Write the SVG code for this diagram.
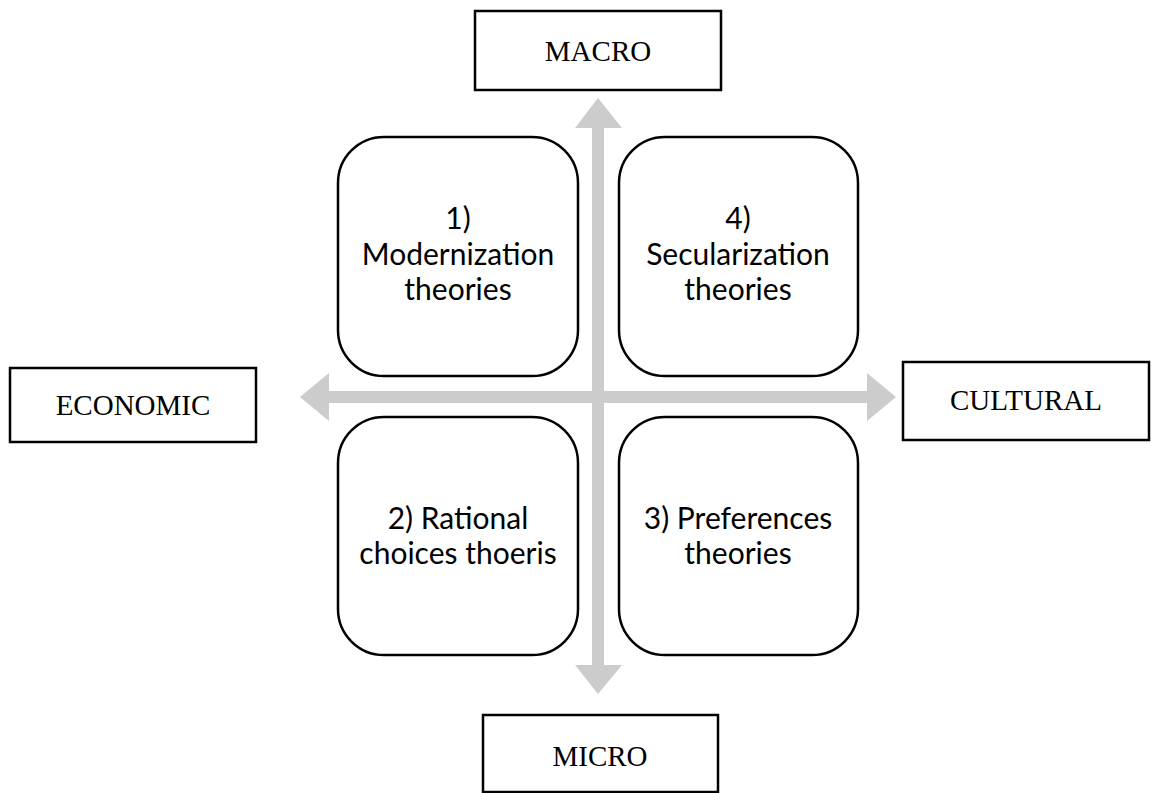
<svg xmlns="http://www.w3.org/2000/svg" width="1155" height="793" viewBox="0 0 1155 793">
<style>
.lbl{fill:#fff;stroke:#000;stroke-width:2.5}
.q{fill:#fff;stroke:#000;stroke-width:2.5}
.serif{font-family:"Liberation Serif","Times New Roman",serif;font-size:29px;fill:#000;text-anchor:middle}
.sans{font-family:Lato,"Liberation Sans",sans-serif;font-size:30px;fill:#000;text-anchor:middle}
.arr{fill:#cccccc}
</style>
<rect width="1155" height="793" fill="#fff"/>
<g id="connectors">
<polygon class="arr" points="592,128 575,128 598,98 622,128 604,128 604,391 867,391 867,373 896,397 867,421 867,403 604,403 604,665 622,665 598,694 575,665 592,665 592,403 329,403 329,421 300,397 329,373 329,391 592,391"/>
</g>
<g id="macro"><rect class="lbl" x="475" y="11" width="246" height="79"/><text class="serif" x="598" y="61">MACRO</text></g>
<g id="micro"><rect class="lbl" x="483" y="715" width="235" height="77"/><text class="serif" x="600" y="766">MICRO</text></g>
<g id="economic"><rect class="lbl" x="10" y="368" width="246" height="74"/><text class="serif" x="133" y="415">ECONOMIC</text></g>
<g id="cultural"><rect class="lbl" x="903" y="362" width="246" height="78"/><text class="serif" x="1026" y="410">CULTURAL</text></g>
<g id="q1"><rect class="q" x="338" y="137" width="240" height="239" rx="46"/><text class="sans" x="458" y="229">1)</text><text class="sans" x="458" y="265">Modernization</text><text class="sans" x="458" y="300">theories</text></g>
<g id="q4"><rect class="q" x="619" y="137" width="239" height="239" rx="46"/><text class="sans" x="738" y="229">4)</text><text class="sans" x="738" y="265">Secularization</text><text class="sans" x="738" y="300">theories</text></g>
<g id="q2"><rect class="q" x="338" y="417" width="240" height="238" rx="46"/><text class="sans" x="458" y="529">2) Rational</text><text class="sans" x="458" y="564">choices thoeris</text></g>
<g id="q3"><rect class="q" x="619" y="417" width="239" height="238" rx="46"/><text class="sans" x="738" y="529">3) Preferences</text><text class="sans" x="738" y="564">theories</text></g>
</svg>
